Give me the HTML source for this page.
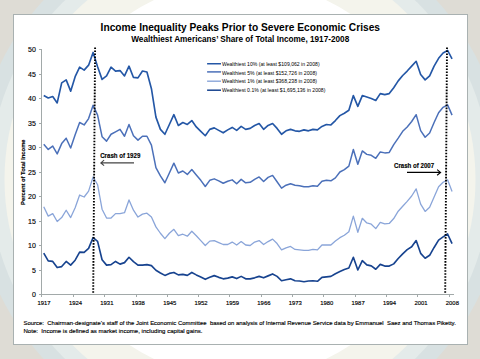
<!DOCTYPE html>
<html><head><meta charset="utf-8"><style>
html,body{margin:0;padding:0;width:480px;height:359px;overflow:hidden;background:#dedcd5}
svg{display:block}
text{font-family:"Liberation Sans", sans-serif}
.th{stroke:#000;stroke-width:0.15px}
.pre{white-space:pre}
</style></head><body>
<svg width="480" height="359" viewBox="0 0 480 359">

<rect x="0" y="0" width="480" height="359" fill="#dedcd5"/>
<circle cx="240" cy="179.5" r="266" fill="#d8e1e2"/>
<circle cx="240" cy="179.5" r="250.5" fill="#e4ebea"/>
<circle cx="240" cy="179.5" r="235.5" fill="#f4f4ec"/>
<circle cx="240" cy="179.5" r="199" fill="#ffffff"/>
<rect x="13.5" y="14.5" width="454" height="330" fill="#ffffff" stroke="#a9b1b1" stroke-width="1"/>
<text x="100.6" y="30.5" font-size="10.1" font-weight="bold" fill="#000" textLength="279.4" lengthAdjust="spacingAndGlyphs">Income Inequality Peaks Prior to Severe Economic Crises</text>
<text x="131.25" y="42.4" font-size="8.6" font-weight="bold" fill="#000" textLength="218" lengthAdjust="spacingAndGlyphs">Wealthiest Americans’ Share of Total Income, 1917-2008</text>
<g stroke="#a2a9a9" stroke-width="1" fill="none" shape-rendering="crispEdges">
<path d="M41.5,49 L41.5,294.5 L454.30,294.5"/>
<path d="M39,294.50 L41.5,294.50"/>
<path d="M39,270.00 L41.5,270.00"/>
<path d="M39,245.50 L41.5,245.50"/>
<path d="M39,221.00 L41.5,221.00"/>
<path d="M39,196.50 L41.5,196.50"/>
<path d="M39,172.00 L41.5,172.00"/>
<path d="M39,147.50 L41.5,147.50"/>
<path d="M39,123.00 L41.5,123.00"/>
<path d="M39,98.50 L41.5,98.50"/>
<path d="M39,74.00 L41.5,74.00"/>
<path d="M39,49.50 L41.5,49.50"/>
<path d="M41.50,294.5 L41.50,297"/>
<path d="M73.50,294.5 L73.50,297"/>
<path d="M104.50,294.5 L104.50,297"/>
<path d="M136.50,294.5 L136.50,297"/>
<path d="M167.50,294.5 L167.50,297"/>
<path d="M198.50,294.5 L198.50,297"/>
<path d="M229.50,294.5 L229.50,297"/>
<path d="M261.50,294.5 L261.50,297"/>
<path d="M292.50,294.5 L292.50,297"/>
<path d="M323.50,294.5 L323.50,297"/>
<path d="M355.50,294.5 L355.50,297"/>
<path d="M386.50,294.5 L386.50,297"/>
<path d="M417.50,294.5 L417.50,297"/>
<path d="M449.50,294.5 L449.50,297"/>
</g>
<text x="35.8" y="297.00" font-size="7" fill="#000" class="th" text-anchor="end">0</text>
<text x="35.8" y="272.50" font-size="7" fill="#000" class="th" text-anchor="end">5</text>
<text x="35.8" y="248.00" font-size="7" fill="#000" class="th" text-anchor="end">10</text>
<text x="35.8" y="223.50" font-size="7" fill="#000" class="th" text-anchor="end">15</text>
<text x="35.8" y="199.00" font-size="7" fill="#000" class="th" text-anchor="end">20</text>
<text x="35.8" y="174.50" font-size="7" fill="#000" class="th" text-anchor="end">25</text>
<text x="35.8" y="150.00" font-size="7" fill="#000" class="th" text-anchor="end">30</text>
<text x="35.8" y="125.50" font-size="7" fill="#000" class="th" text-anchor="end">35</text>
<text x="35.8" y="101.00" font-size="7" fill="#000" class="th" text-anchor="end">40</text>
<text x="35.8" y="76.50" font-size="7" fill="#000" class="th" text-anchor="end">45</text>
<text x="35.8" y="52.00" font-size="7" fill="#000" class="th" text-anchor="end">50</text>
<text x="44.04" y="305" font-size="5.9" fill="#000" class="th" text-anchor="middle">1917</text>
<text x="75.45" y="305" font-size="5.9" fill="#000" class="th" text-anchor="middle">1924</text>
<text x="106.86" y="305" font-size="5.9" fill="#000" class="th" text-anchor="middle">1931</text>
<text x="138.27" y="305" font-size="5.9" fill="#000" class="th" text-anchor="middle">1938</text>
<text x="169.68" y="305" font-size="5.9" fill="#000" class="th" text-anchor="middle">1945</text>
<text x="201.09" y="305" font-size="5.9" fill="#000" class="th" text-anchor="middle">1952</text>
<text x="232.50" y="305" font-size="5.9" fill="#000" class="th" text-anchor="middle">1959</text>
<text x="263.91" y="305" font-size="5.9" fill="#000" class="th" text-anchor="middle">1966</text>
<text x="295.32" y="305" font-size="5.9" fill="#000" class="th" text-anchor="middle">1973</text>
<text x="326.72" y="305" font-size="5.9" fill="#000" class="th" text-anchor="middle">1980</text>
<text x="358.13" y="305" font-size="5.9" fill="#000" class="th" text-anchor="middle">1987</text>
<text x="389.54" y="305" font-size="5.9" fill="#000" class="th" text-anchor="middle">1994</text>
<text x="420.95" y="305" font-size="5.9" fill="#000" class="th" text-anchor="middle">2001</text>
<text x="452.36" y="305" font-size="5.9" fill="#000" class="th" text-anchor="middle">2008</text>
<text transform="translate(25.3,172.2) rotate(-90)" x="0" y="0" font-size="5.5" font-weight="bold" fill="#000" class="th" text-anchor="middle" textLength="65.5" lengthAdjust="spacingAndGlyphs">Percent of Total Income</text>
<polyline points="43.74,206.79 48.23,216.10 52.72,213.65 57.20,221.49 61.69,217.57 66.18,210.22 70.67,217.57 75.15,207.77 79.64,195.03 84.13,196.99 88.61,191.11 93.10,176.90 97.59,184.74 102.07,209.24 106.56,218.06 111.05,218.06 115.54,213.65 120.02,213.65 124.51,212.67 129.00,199.93 133.48,210.22 137.97,217.08 142.46,214.14 146.94,213.16 151.43,217.08 155.92,226.88 160.41,233.25 164.89,238.64 169.38,233.25 173.87,229.33 178.35,235.70 182.84,234.23 187.33,236.19 191.81,231.29 196.30,235.70 200.79,240.60 205.28,245.50 209.76,241.09 214.25,240.60 218.74,242.56 223.22,244.52 227.71,244.52 232.20,242.07 236.68,245.01 241.17,241.58 245.66,245.01 250.15,245.50 254.63,242.07 259.12,240.60 263.61,244.52 268.09,241.58 272.58,239.13 277.07,243.54 281.55,249.91 286.04,247.95 290.53,246.48 295.02,249.42 299.50,249.91 303.99,250.40 308.48,250.40 312.96,249.42 317.45,249.91 321.94,245.01 326.42,245.01 330.91,245.01 335.40,241.09 339.89,237.66 344.37,235.21 348.86,231.78 353.35,216.10 357.83,232.27 362.32,218.31 366.81,222.96 371.29,224.19 375.78,228.59 380.27,222.47 384.76,223.94 389.24,223.45 393.73,218.55 398.22,211.20 402.70,206.30 407.19,201.40 411.68,196.01 416.16,188.90 420.65,204.09 425.14,211.44 429.63,207.28 434.11,196.99 438.60,186.70 443.09,182.29 447.57,179.84 452.06,191.60" fill="none" stroke="#8aa5d9" stroke-width="1.3" stroke-linejoin="round"/>
<polyline points="43.74,144.31 48.23,149.46 52.72,146.03 57.20,153.87 61.69,143.58 66.18,138.19 70.67,147.99 75.15,134.76 79.64,122.51 84.13,124.96 88.61,118.59 93.10,105.36 97.59,115.16 102.07,136.72 106.56,141.13 111.05,134.27 115.54,131.82 120.02,129.37 124.51,136.23 129.00,124.47 133.48,135.74 137.97,140.15 142.46,136.23 146.94,136.23 151.43,145.05 155.92,167.59 160.41,175.92 164.89,182.78 169.38,172.98 173.87,163.18 178.35,172.98 182.84,171.02 187.33,174.45 191.81,169.55 196.30,174.94 200.79,180.33 205.28,186.45 209.76,180.33 214.25,178.86 218.74,180.82 223.22,183.27 227.71,181.31 232.20,179.84 236.68,183.76 241.17,179.35 245.66,182.78 250.15,182.29 254.63,179.35 259.12,176.90 263.61,181.56 268.09,177.39 272.58,175.43 277.07,181.80 281.55,188.17 286.04,185.23 290.53,183.76 295.02,185.23 299.50,185.72 303.99,186.70 308.48,186.70 312.96,185.72 317.45,186.21 321.94,181.31 326.42,180.33 330.91,180.82 335.40,177.88 339.89,172.00 344.37,169.55 348.86,166.12 353.35,149.46 357.83,164.16 362.32,150.93 366.81,154.36 371.29,155.34 375.78,158.28 380.27,151.91 384.76,152.89 389.24,152.40 393.73,144.56 398.22,138.19 402.70,131.33 407.19,126.92 411.68,121.53 416.16,114.67 420.65,130.59 425.14,137.21 429.63,133.04 434.11,122.51 438.60,112.71 443.09,107.32 447.57,104.87 452.06,115.16" fill="none" stroke="#4b70b9" stroke-width="1.5" stroke-linejoin="round"/>
<polyline points="43.74,95.56 48.23,98.01 52.72,96.54 57.20,102.91 61.69,82.82 66.18,79.88 70.67,91.15 75.15,76.69 79.64,67.14 84.13,70.08 88.61,65.18 93.10,52.44 97.59,66.65 102.07,79.39 106.56,75.96 111.05,67.14 115.54,71.06 120.02,70.57 124.51,75.96 129.00,66.16 133.48,77.43 137.97,77.92 142.46,71.06 146.94,72.04 151.43,88.70 155.92,117.12 160.41,129.37 164.89,134.27 169.38,124.47 173.87,114.67 178.35,125.45 182.84,122.51 187.33,124.47 191.81,120.55 196.30,126.92 200.79,131.33 205.28,135.74 209.76,129.37 214.25,127.90 218.74,130.35 223.22,132.80 227.71,129.86 232.20,127.41 236.68,130.35 241.17,126.43 245.66,129.37 250.15,128.39 254.63,125.45 259.12,123.49 263.61,129.37 268.09,125.45 272.58,123.49 277.07,128.39 281.55,134.27 286.04,130.84 290.53,129.37 295.02,130.84 299.50,131.33 303.99,129.86 308.48,130.84 312.96,129.37 317.45,129.86 321.94,126.43 326.42,124.47 330.91,124.96 335.40,120.55 339.89,115.65 344.37,113.20 348.86,110.26 353.35,95.56 357.83,106.34 362.32,95.56 366.81,97.03 371.29,98.50 375.78,100.46 380.27,93.60 384.76,94.58 389.24,93.60 393.73,87.72 398.22,80.86 402.70,75.47 407.19,71.06 411.68,66.16 416.16,61.26 420.65,74.49 425.14,79.88 429.63,75.96 434.11,66.16 438.60,58.32 443.09,52.93 447.57,50.48 452.06,58.81" fill="none" stroke="#2457a6" stroke-width="1.65" stroke-linejoin="round"/>
<polyline points="43.74,253.09 48.23,260.94 52.72,261.43 57.20,267.55 61.69,266.57 66.18,261.43 70.67,265.10 75.15,260.20 79.64,252.12 84.13,252.36 88.61,248.44 93.10,237.66 97.59,241.34 102.07,259.71 106.56,265.10 111.05,264.61 115.54,261.43 120.02,264.12 124.51,262.65 129.00,257.26 133.48,261.67 137.97,265.10 142.46,265.10 146.94,264.61 151.43,265.59 155.92,270.25 160.41,272.94 164.89,275.39 169.38,273.43 173.87,272.45 178.35,274.90 182.84,274.41 187.33,275.39 191.81,272.45 196.30,274.90 200.79,277.11 205.28,279.31 209.76,277.35 214.25,275.63 218.74,277.35 223.22,278.82 227.71,278.08 232.20,276.86 236.68,278.57 241.17,276.37 245.66,278.82 250.15,278.82 254.63,277.84 259.12,276.37 263.61,277.84 268.09,275.88 272.58,273.92 277.07,276.37 281.55,280.78 286.04,279.80 290.53,278.82 295.02,280.78 299.50,281.02 303.99,281.76 308.48,281.02 312.96,280.78 317.45,281.27 321.94,277.35 326.42,276.86 330.91,276.37 335.40,273.68 339.89,271.47 344.37,269.51 348.86,268.04 353.35,257.26 357.83,270.00 362.32,260.69 366.81,264.86 371.29,265.83 375.78,269.26 380.27,264.37 384.76,266.08 389.24,266.08 393.73,263.88 398.22,258.49 402.70,253.83 407.19,249.66 411.68,246.72 416.16,240.60 420.65,253.34 425.14,258.24 429.63,255.30 434.11,247.46 438.60,240.11 443.09,236.93 447.57,233.99 452.06,243.54" fill="none" stroke="#17438f" stroke-width="1.65" stroke-linejoin="round"/>
<path d="M207.1,63.75 L221,63.75" stroke="#2457a6" stroke-width="1.5"/>
<text x="221.9" y="66.10" font-size="5.6" fill="#000" textLength="97.7" lengthAdjust="spacingAndGlyphs">Wealthiest 10% (at least $109,062 in 2008)</text>
<path d="M207.1,71.9 L221,71.9" stroke="#4b70b9" stroke-width="1.5"/>
<text x="221.9" y="74.50" font-size="5.6" fill="#000" textLength="95.1" lengthAdjust="spacingAndGlyphs">Wealthiest 5% (at least $152,726 in 2008)</text>
<path d="M207.1,81.2 L221,81.2" stroke="#8aa5d9" stroke-width="1.4"/>
<text x="221.9" y="83.40" font-size="5.6" fill="#000" textLength="95.1" lengthAdjust="spacingAndGlyphs">Wealthiest 1% (at least $368,238 in 2008)</text>
<path d="M207.1,90.2 L221,90.2" stroke="#17438f" stroke-width="1.5"/>
<text x="221.9" y="92.00" font-size="5.6" fill="#000" textLength="103.5" lengthAdjust="spacingAndGlyphs">Wealthiest 0.1% (at least $1,695,136 in 2008)</text>
<path d="M95.1,47.4 L93.2,293.0" stroke="#000" stroke-width="1.9" stroke-dasharray="1.6 1.41"/>
<path d="M447,47.4 L445.2,293.0" stroke="#000" stroke-width="1.9" stroke-dasharray="1.6 1.41"/>
<text x="100.2" y="157.9" font-size="7" font-weight="bold" fill="#000" class="th" textLength="40.1" lengthAdjust="spacingAndGlyphs">Crash of 1929</text>
<path d="M134,162.9 L100.8,162.9 M104.1,160.1 L100.8,162.9 L104.1,165.7" stroke="#444" stroke-width="1.1" fill="none"/>
<text x="394" y="167.8" font-size="7" font-weight="bold" fill="#000" class="th" textLength="40.1" lengthAdjust="spacingAndGlyphs">Crash of 2007</text>
<path d="M407,172.4 L440.6,172.4 M437.1,169.6 L440.6,172.4 L437.1,175.2" stroke="#000" stroke-width="1.1" fill="none"/>
<text x="23.5" y="325" font-size="5.9" fill="#000" class="th pre" textLength="432.3" lengthAdjust="spacingAndGlyphs">Source:  Chairman-designate’s staff of the Joint Economic Committee  based on analysis of Internal Revenue Service data by Emmanuel  Saez and Thomas Piketty.</text>
<text x="23.5" y="332.9" font-size="5.9" fill="#000" class="th pre" textLength="179" lengthAdjust="spacingAndGlyphs">Note:  Income is defined as market income, including capital gains.</text>
</svg></body></html>
